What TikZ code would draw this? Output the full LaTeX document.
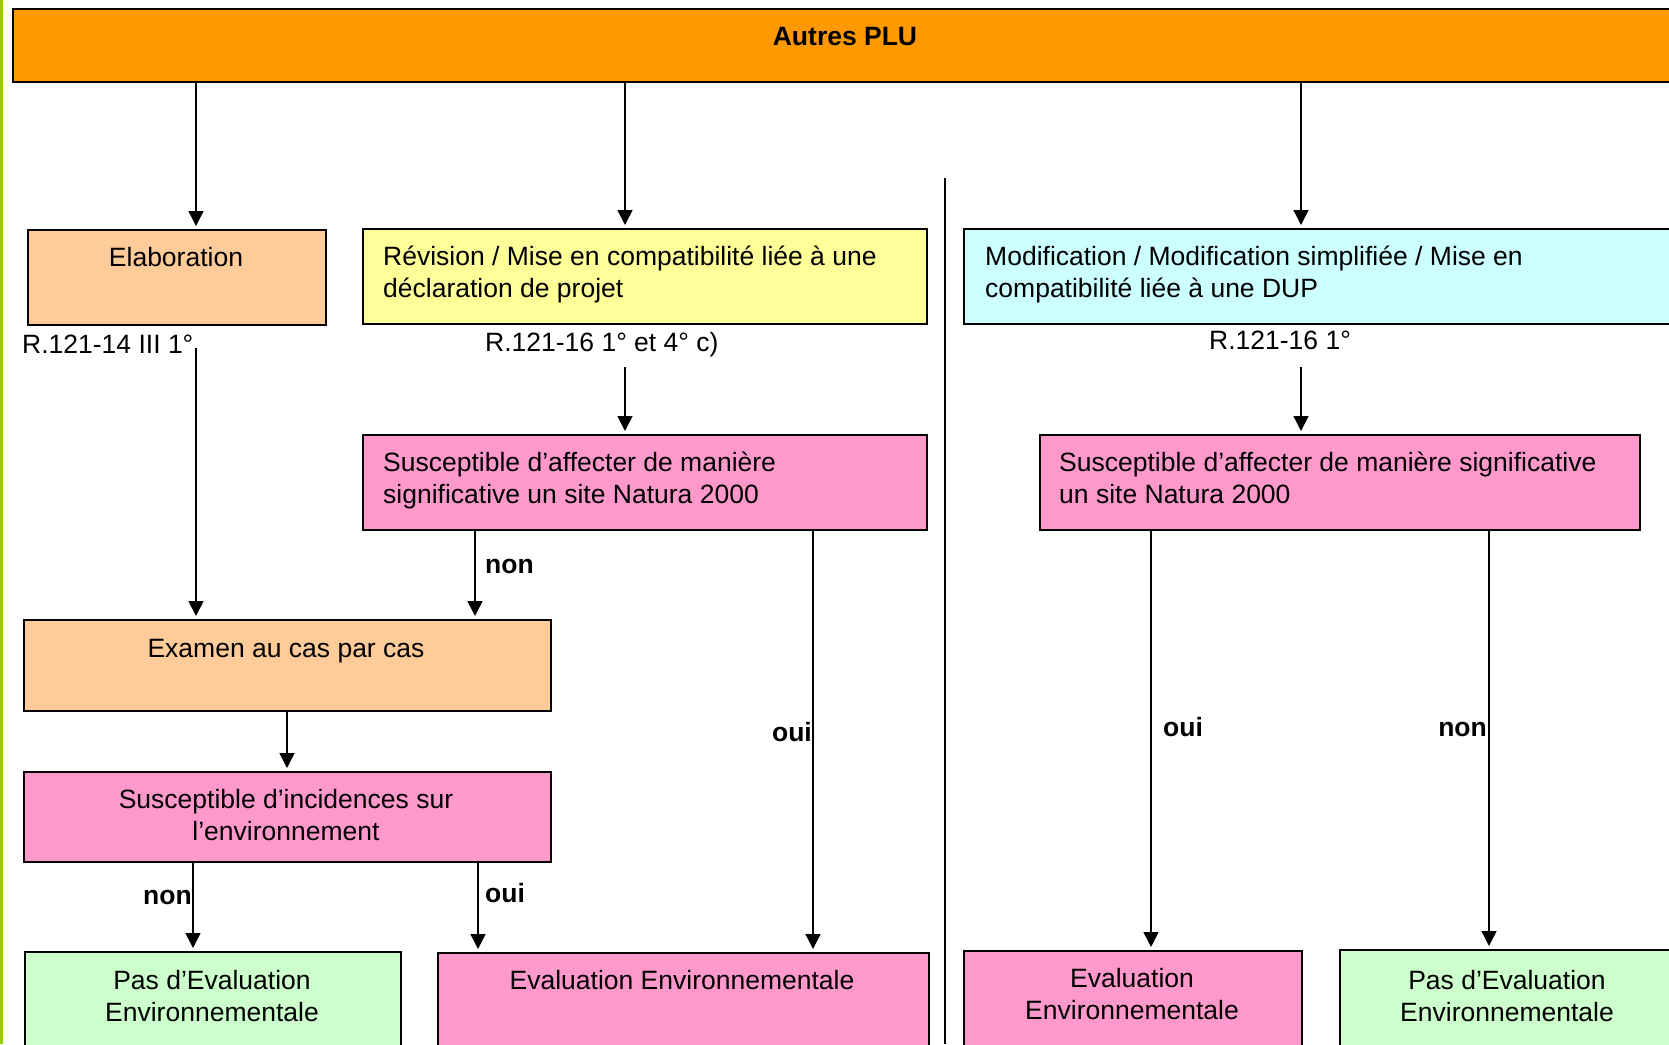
\documentclass[tikz,border=0pt]{standalone}
\usepackage{fontspec}
\setmainfont{Liberation Sans}
\usetikzlibrary{arrows.meta}
\definecolor{orangePLU}{RGB}{255,153,0}
\definecolor{peche}{RGB}{255,204,153}
\definecolor{jaune}{RGB}{255,255,153}
\definecolor{cyanclair}{RGB}{204,255,255}
\definecolor{rose}{RGB}{255,153,204}
\definecolor{vertclair}{RGB}{204,255,204}
\definecolor{vertbord}{RGB}{153,204,0}
\tikzset{
    boite/.style={draw, line width=1.6pt, anchor=north west, inner sep=0pt},
    txt/.style={inner sep=0pt, font=\fontsize{26.5}{32}\selectfont},
    rep/.style={inner sep=0pt, font=\fontsize{26.5}{32}\selectfont\bfseries},
    fl/.style={line width=1.5pt, -{Triangle[length=15pt,width=15pt]}, shorten >=3pt}
}
\begin{document}
\begin{tikzpicture}[x=1pt,y=-1pt]
        \useasboundingbox (0,0) rectangle (1669,1044);
        \clip (0,0) rectangle (1669,1044);
        \fill[vertbord] (0,0) rectangle (2.5,1044);
        \node[boite, fill=orangePLU, minimum width=1668pt, minimum height=73pt] (plu) at (12,8) {};
        \node[rep, anchor=base] (plu-t) at (845,45) {Autres PLU};
        \node[boite, fill=peche, minimum width=298pt, minimum height=95pt] (elab) at (27,229) {};
        \node[txt, anchor=base] (elab-t) at (176,266) {Elaboration};
        \node[boite, fill=jaune, minimum width=564pt, minimum height=95pt] (revi) at (362,228) {};
        \node[txt, anchor=base west, align=left] (revi-t) at (383,297) {Révision / Mise en compatibilité liée à une\\déclaration de projet};
        \node[boite, fill=cyanclair, minimum width=720pt, minimum height=95pt] (modif) at (963,228) {};
        \node[txt, anchor=base west, align=left] (modif-t) at (985,297) {Modification / Modification simplifiée / Mise en\\compatibilité liée à une DUP};
        \node[txt, anchor=base west] (art1) at (22,353) {R.121-14 III 1°};
        \node[txt, anchor=base west] (art2) at (485,351) {R.121-16 1° et 4° c)};
        \node[txt, anchor=base west] (art3) at (1209,349) {R.121-16 1°};
        \node[boite, fill=rose, minimum width=564pt, minimum height=95pt] (natA) at (362,434) {};
        \node[txt, anchor=base west, align=left] (natA-t) at (383,503) {Susceptible d’affecter de manière\\significative un site Natura 2000};
        \node[boite, fill=rose, minimum width=600pt, minimum height=95pt] (natB) at (1039,434) {};
        \node[txt, anchor=base west, align=left] (natB-t) at (1059,503) {Susceptible d’affecter de manière significative\\un site Natura 2000};
        \node[boite, fill=peche, minimum width=527pt, minimum height=91pt] (exam) at (23,619) {};
        \node[txt, anchor=base] (exam-t) at (286,657) {Examen au cas par cas};
        \node[boite, fill=rose, minimum width=527pt, minimum height=90pt] (inc) at (23,771) {};
        \node[txt, anchor=base, align=center] (inc-t) at (286,840) {Susceptible d’incidences sur\\l’environnement};
        \node[boite, fill=vertclair, minimum width=376pt, minimum height=120pt] (pasA) at (24,951) {};
        \node[txt, anchor=base, align=center] (pasA-t) at (212,1021) {Pas d’Evaluation\\Environnementale};
        \node[boite, fill=rose, minimum width=491pt, minimum height=120pt] (evalA) at (437,952) {};
        \node[txt, anchor=base] (evalA-t) at (682,989) {Evaluation Environnementale};
        \node[boite, fill=rose, minimum width=338pt, minimum height=120pt] (evalB) at (963,950) {};
        \node[txt, anchor=base, align=center] (evalB-t) at (1132,1019) {Evaluation\\Environnementale};
        \node[boite, fill=vertclair, minimum width=340pt, minimum height=120pt] (pasB) at (1339,949) {};
        \node[txt, anchor=base, align=center] (pasB-t) at (1507,1021) {Pas d’Evaluation\\Environnementale};
        \coordinate (xa) at (196,0);
        \coordinate (xb) at (625,0);
        \coordinate (xc) at (1301,0);
        \coordinate (d1) at (196,348);
        \coordinate (d2) at (625,367);
        \coordinate (d3) at (1301,367);
        \draw[line width=1.5pt] (945,178) coordinate (sep) -- (945,1044);
        \draw[fl] (plu.south -| xa) -- (elab.north -| xa);
        \draw[fl] (plu.south -| xb) -- (revi.north -| xb);
        \draw[fl] (plu.south -| xc) -- (modif.north -| xc);
        \draw[fl] (d1) -- (exam.north -| d1);
        \draw[fl] (d2) -- (natA.north -| d2);
        \draw[fl] (d3) -- (natB.north -| d3);
        \draw[fl] (natA.south -| 475,0) -- (exam.north -| 475,0);
        \node[rep, anchor=base west] (nonA) at (485,573) {non};
        \draw[fl] (natA.south -| 813,0) -- (evalA.north -| 813,0);
        \node[rep, anchor=base east] (ouiA) at (812,741) {oui};
        \draw[fl] (exam.south -| 287,0) -- (inc.north -| 287,0);
        \draw[fl] (inc.south -| 193,0) -- (pasA.north -| 193,0);
        \node[rep, anchor=base east] (nonB) at (192,904) {non};
        \draw[fl] (inc.south -| 478,0) -- (evalA.north -| 478,0);
        \node[rep, anchor=base west] (ouiB) at (485,902) {oui};
        \draw[fl] (natB.south -| 1151,0) -- (evalB.north -| 1151,0);
        \node[rep, anchor=base west] (ouiC) at (1163,736) {oui};
        \draw[fl] (natB.south -| 1489,0) -- (pasB.north -| 1489,0);
        \node[rep, anchor=base east] (nonC) at (1487,736) {non};
    \end{tikzpicture}
\end{document}
